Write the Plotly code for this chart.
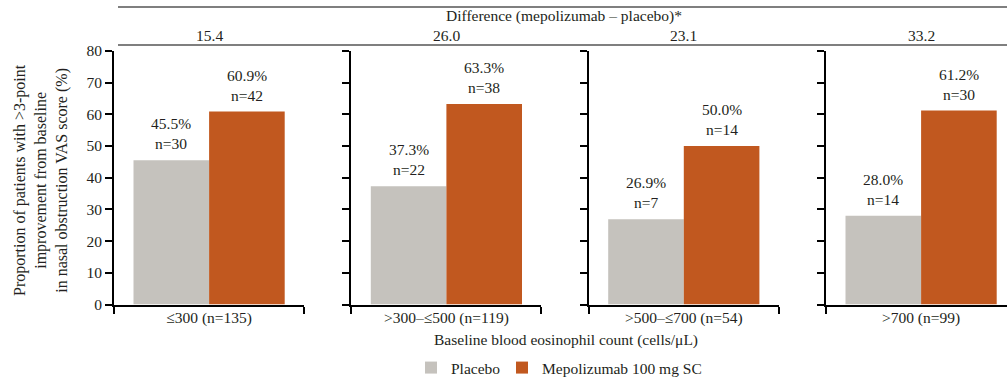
import plotly.graph_objects as go

# ---------------- data ----------------
categories = ["≤300 (n=135)", ">300–≤500 (n=119)", ">500–≤700 (n=54)", ">700 (n=99)"]
differences = ["15.4", "26.0", "23.1", "33.2"]
placebo_pct = [45.5, 37.3, 26.9, 28.0]
placebo_n = [30, 22, 7, 14]
mepo_pct = [60.9, 63.3, 50.0, 61.2]
mepo_n = [42, 38, 14, 30]
series_names = ["Placebo", "Mepolizumab 100 mg SC"]
y_ticks = [0, 10, 20, 30, 40, 50, 60, 70, 80]
y_title = "Proportion of patients with &gt;3-point<br>improvement from baseline<br>in nasal obstruction VAS score (%)"
x_title = "Baseline blood eosinophil count (cells/μL)"
diff_title = "Difference (mepolizumab – placebo)*"

# ---------------- layout constants ----------------
W, H = 1007, 382
FONT = "'Liberation Serif', 'Times New Roman', 'DejaVu Serif', serif"
FS = 15.5
TXT = "#231F20"
GRAY = "#C5C2BD"
ORANGE = "#C1581F"

panel_left = [114, 351.3, 588.7, 826]
panel_w = 190
bar_px = 75.6
pad_px = 19.5
y_bottom_px, y_top_px = 304.5, 51  # from top

ydom = [(H - y_bottom_px) / H, (H - y_top_px) / H]

legend_common = dict(orientation="h", y=(H - 368) / H, xanchor="left", yanchor="middle",
                     font=dict(family=FONT, size=FS, color=TXT), bgcolor="rgba(0,0,0,0)",
                     itemclick=False)

fig = go.Figure()
layout = dict(
    width=W, height=H,
    margin=dict(l=0, r=0, t=0, b=0, autoexpand=False),
    paper_bgcolor="white", plot_bgcolor="white",
    font=dict(family=FONT, size=FS, color=TXT),
    barmode="overlay",
    showlegend=True,
    legend=dict(x=411 / W, **legend_common),
    legend2=dict(x=502 / W, **legend_common),
)

annotations = []
for i in range(4):
    k = i + 1
    xa = "x" if k == 1 else f"x{k}"
    ya = "y" if k == 1 else f"y{k}"
    left = panel_left[i]
    right = min(left + panel_w, W)
    r0 = -0.5 - pad_px / bar_px
    r1 = r0 + (right - left) / bar_px
    fig.add_trace(go.Bar(x=[0], y=[placebo_pct[i]], width=1, xaxis=xa, yaxis=ya,
                         marker=dict(color=GRAY, line=dict(width=0)), name=series_names[0],
                         legend="legend", legendgroup="p", showlegend=(i == 0), hoverinfo="skip"))
    fig.add_trace(go.Bar(x=[1], y=[mepo_pct[i]], width=1, xaxis=xa, yaxis=ya,
                         marker=dict(color=ORANGE, line=dict(width=0)), name=series_names[1],
                         legend="legend2", legendgroup="m", showlegend=(i == 0), hoverinfo="skip"))
    minor_vals = [r0] + ([r1] if left + panel_w <= W else [])
    layout[f"xaxis{'' if k == 1 else k}"] = dict(
        domain=[left / W, right / W], range=[r0, r1], anchor=ya,
        showline=True, linewidth=2, linecolor="black",
        tickmode="array", tickvals=[0.5], ticktext=[categories[i]], ticks="",
        minor=dict(tickmode="array", tickvals=minor_vals, ticks="outside", ticklen=7,
                   tickwidth=2, tickcolor="black", showgrid=False),
        ticklabelstandoff=-2, automargin=False,
        showgrid=False, zeroline=False, fixedrange=True,
        tickfont=dict(family=FONT, size=FS, color=TXT),
    )
    layout[f"yaxis{'' if k == 1 else k}"] = dict(
        domain=ydom, range=[0, 80], anchor=xa,
        showline=True, linewidth=2, linecolor="black",
        tickmode="array", tickvals=y_ticks, ticks="outside", ticklen=7, tickwidth=2,
        tickcolor="black", showticklabels=(k == 1), automargin=False,
        showgrid=False, zeroline=False, fixedrange=True,
        tickfont=dict(family=FONT, size=FS, color=TXT),
    )
    # difference value
    annotations.append(dict(xref=xa, yref="paper", x=0.5, y=(H - 36) / H, text=differences[i],
                            showarrow=False, xanchor="center", yanchor="middle"))
    # bar labels
    annotations.append(dict(xref=xa, yref=ya, x=0, y=placebo_pct[i],
                            text=f"{placebo_pct[i]:.1f}%<br>n={placebo_n[i]}",
                            showarrow=False, xanchor="center", yanchor="bottom", yshift=6))
    annotations.append(dict(xref=xa, yref=ya, x=1, y=mepo_pct[i],
                            text=f"{mepo_pct[i]:.1f}%<br>n={mepo_n[i]}",
                            showarrow=False, xanchor="center", yanchor="bottom", yshift=6))

annotations.append(dict(xref="paper", yref="paper", x=564 / W, y=(H - 16) / H, text=diff_title,
                        showarrow=False, xanchor="center", yanchor="middle"))
annotations.append(dict(xref="paper", yref="paper", x=566 / W, y=(H - 340) / H, text=x_title,
                        showarrow=False, xanchor="center", yanchor="middle"))
annotations.append(dict(xref="paper", yref="paper", x=41 / W, y=(H - 180) / H, text=y_title,
                        showarrow=False, xanchor="center", yanchor="middle", textangle=-90,
                        font=dict(family=FONT, size=16, color=TXT)))
layout["annotations"] = annotations

layout["shapes"] = [
    dict(type="line", xref="paper", yref="paper", x0=118 / W, x1=1, y0=(H - 7) / H, y1=(H - 7) / H,
         line=dict(color="#555555", width=1.5)),
    dict(type="line", xref="paper", yref="paper", x0=118 / W, x1=1, y0=(H - 45) / H, y1=(H - 45) / H,
         line=dict(color="#555555", width=1.5)),
]

fig.update_layout(**layout)
fig.write_html("out.html")
